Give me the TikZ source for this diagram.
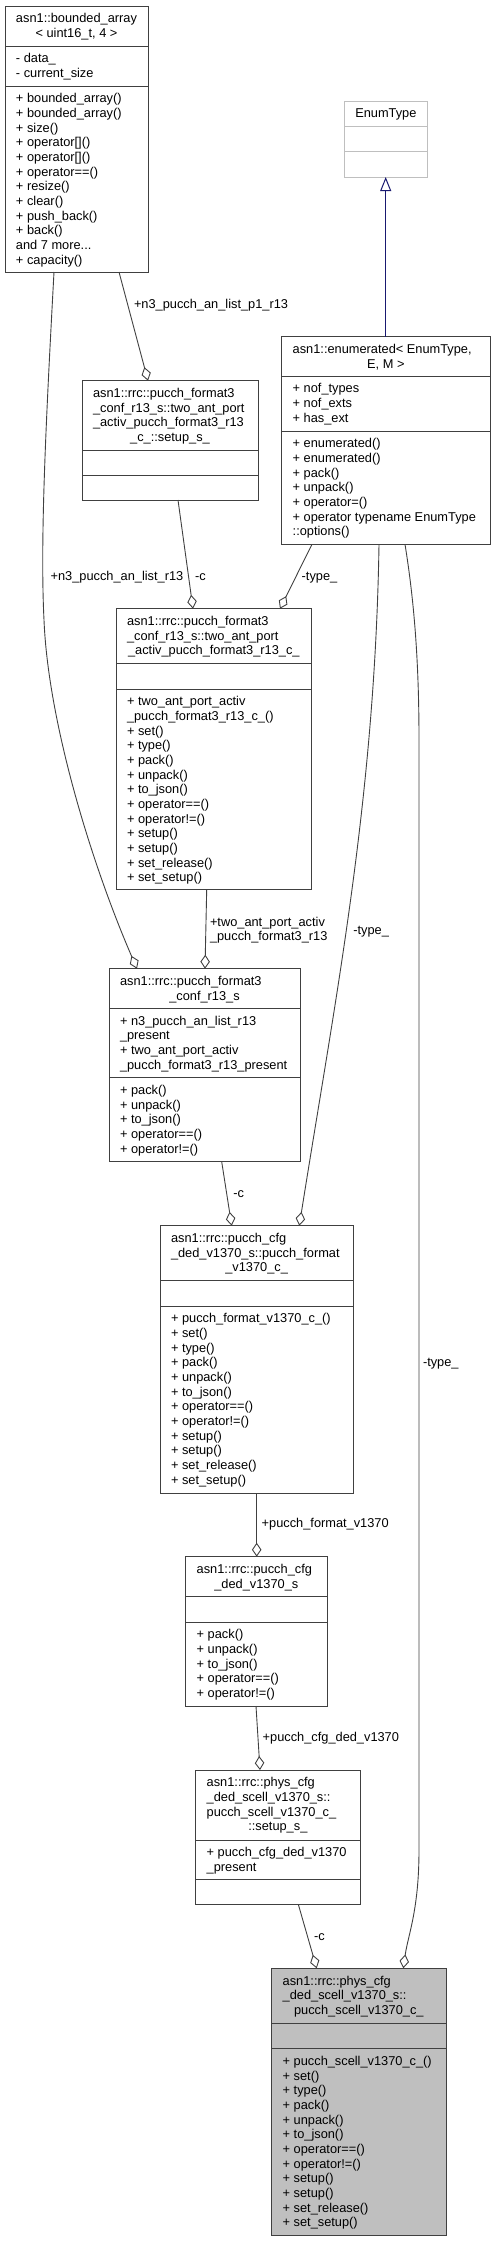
\documentclass[tikz,border=0pt]{standalone}
\usepackage{fontspec}
\setmainfont{Liberation Sans}
\usetikzlibrary{arrows.meta}
\definecolor{boxc}{HTML}{404040}
\definecolor{edgec}{HTML}{404040}
\definecolor{greyf}{HTML}{BFBFBF}
\definecolor{inhc}{HTML}{191970}
\newcommand\umlfont{\fontsize{12.8pt}{14.67pt}\selectfont}
\tikzset{
  x=1pt, y=-1pt,
  umlbox/.style={line width=1pt, inner sep=0pt, outer sep=0pt, anchor=north west},
  sepline/.style={line width=1pt},
  txt/.style={inner sep=0pt, outer sep=0pt, font=\umlfont, text=black},
  lbl/.style={inner sep=0pt, outer sep=0pt, font=\umlfont, text=black, anchor=base west},
  assoc/.style={draw=edgec, line width=0.9pt, -{Diamond[open,length=14pt,width=9.5pt]}},
  inherit/.style={draw=inhc, line width=1pt, -{Triangle[open,length=14pt,width=11pt]}},
}
% #1 name, #2 left, #3 top, #4 right, #5 bottom, #6 sep1, #7 sep2, #8 draw colour, #9 fill colour
\newcommand\umlclass[9]{%
  \node[umlbox, draw=#8, fill=#9, minimum width={(#4-#2)*1pt}, minimum height={(#5-#3)*1pt}] (#1) at (#2,#3) {};
  \draw[sepline, draw=#8] (#2,#6) -- (#4,#6);
  \draw[sepline, draw=#8] (#2,#7) -- (#4,#7);
}
% #1 prefix, #2 x, #3 section top, #4 list
\newcommand\leftlines[4]{%
  \foreach \linetxt [count=\i] in {#4}{
    \node[txt, anchor=base west] (#1-\i) at (#2, #3+16.8+14.67*\i-14.67) {\linetxt};
  }%
}
% #1 prefix, #2 x left, #3 x centre, #4 section top, #5 list (last line centred)
\newcommand\titlelines[5]{%
  \foreach \linetxt [count=\i] in {#5}{\xdef\nlastline{\i}}%
  \foreach \linetxt [count=\i] in {#5}{
    \ifnum\i<\nlastline\relax
      \node[txt, anchor=base west] (#1-\i) at (#2, #4+16.8+14.67*\i-14.67) {\linetxt};
    \else
      \node[txt, anchor=base] (#1-\i) at (#3, #4+16.8+14.67*\i-14.67) {\linetxt};
    \fi
  }%
}
\begin{document}
\begin{tikzpicture}
\useasboundingbox (0,0) rectangle (495,2241);

% ---------- boxes ----------
\umlclass{A}{5}{6}{148}{272}{46}{86}{boxc}{white}
\titlelines{At}{16}{76.5}{6}{asn1::bounded\_array, {< uint16\_t, 4 >}}
\leftlines{Aa}{16}{46}{- data\_, - current\_size}
\leftlines{Am}{16}{86}{+ bounded\_array(), + bounded\_array(), + size(), + operator[](), + operator[](), + operator==(), + resize(), + clear(), + push\_back(), + back(), {and 7 more.{}.{}.}, + capacity()}

\umlclass{ET}{344}{101}{427.7}{177}{126.7}{151.7}{greyf}{white}
\titlelines{ETt}{355}{385.85}{101}{EnumType}

\umlclass{En}{281.7}{336.7}{490}{544.3}{376}{431}{boxc}{white}
\titlelines{Ent}{292.7}{385.85}{336.7}{{asn1::enumerated< EnumType,}, {E, M >}}
\leftlines{Ena}{292.7}{376}{+ nof\_types, + nof\_exts, + has\_ext}
\leftlines{Enm}{292.7}{431}{+ enumerated(), + enumerated(), + pack(), + unpack(), + operator=(), + operator typename EnumType, ::options()}

\umlclass{B}{82}{380.7}{258}{500}{450}{475.3}{boxc}{white}
\titlelines{Bt}{93}{170}{380.7}{asn1::rrc::pucch\_format3, \_conf\_r13\_s::two\_ant\_port, \_activ\_pucch\_format3\_r13, \_c\_::setup\_s\_}

\umlclass{C}{116}{608.7}{311.7}{889.3}{663.3}{689}{boxc}{white}
\titlelines{Ct}{127}{213.85}{608.7}{asn1::rrc::pucch\_format3, \_conf\_r13\_s::two\_ant\_port, \_activ\_pucch\_format3\_r13\_c\_}
\leftlines{Cm}{127}{689}{+ two\_ant\_port\_activ, \_pucch\_format3\_r13\_c\_(), + set(), + type(), + pack(), + unpack(), + to\_json(), + operator==(), + operator!=(), + setup(), + setup(), + set\_release(), + set\_setup()}

\umlclass{D}{109}{968.7}{300}{1161.7}{1008.3}{1077.7}{boxc}{white}
\titlelines{Dt}{120}{204.5}{968.7}{asn1::rrc::pucch\_format3, \_conf\_r13\_s}
\leftlines{Da}{120}{1008.3}{+ n3\_pucch\_an\_list\_r13, \_present, + two\_ant\_port\_activ, \_pucch\_format3\_r13\_present}
\leftlines{Dm}{120}{1077.7}{+ pack(), + unpack(), + to\_json(), + operator==(), + operator!=()}

\umlclass{E}{160}{1225.7}{353.3}{1493.3}{1280}{1306}{boxc}{white}
\titlelines{Et}{171}{256.65}{1225.7}{asn1::rrc::pucch\_cfg, \_ded\_v1370\_s::pucch\_format, \_v1370\_c\_}
\leftlines{Em}{171}{1306}{+ pucch\_format\_v1370\_c\_(), + set(), + type(), + pack(), + unpack(), + to\_json(), + operator==(), + operator!=(), + setup(), + setup(), + set\_release(), + set\_setup()}

\umlclass{F}{185.7}{1556.7}{327}{1706}{1596.7}{1622}{boxc}{white}
\titlelines{Ft}{196.7}{256.35}{1556.7}{asn1::rrc::pucch\_cfg, \_ded\_v1370\_s}
\leftlines{Fm}{196.7}{1622}{+ pack(), + unpack(), + to\_json(), + operator==(), + operator!=()}

\umlclass{G}{195.7}{1770}{360}{1904.3}{1840}{1879}{boxc}{white}
\titlelines{Gt}{206.7}{277.85}{1770}{asn1::rrc::phys\_cfg, \_ded\_scell\_v1370\_s::, pucch\_scell\_v1370\_c\_, ::setup\_s\_}
\leftlines{Ga}{206.7}{1840}{+ pucch\_cfg\_ded\_v1370, \_present}

\umlclass{H}{271.7}{1968.3}{446}{2235}{2023.3}{2048.7}{boxc}{greyf}
\titlelines{Ht}{282.7}{358.85}{1968.3}{asn1::rrc::phys\_cfg, \_ded\_scell\_v1370\_s::, pucch\_scell\_v1370\_c\_}
\leftlines{Hm}{282.7}{2048.7}{+ pucch\_scell\_v1370\_c\_(), + set(), + type(), + pack(), + unpack(), + to\_json(), + operator==(), + operator!=(), + setup(), + setup(), + set\_release(), + set\_setup()}

% ---------- connectors ----------
\draw[inherit] ([xshift=104pt]En.north west) -- ([xshift=41.7pt]ET.south west);

\draw[assoc] ([xshift=114pt]A.south west) -- ([xshift=66pt]B.north west);
\draw[assoc] ([xshift=96pt]B.south west) -- ([xshift=77pt]C.north west);
\draw[assoc] ([xshift=30.3pt]En.south west) -- ([xshift=164pt]C.north west);
\draw[assoc] ([xshift=49pt]A.south west) .. controls (46,420) and (40,540) .. (44,620)
   .. controls (48,720) and (90,860) .. ([xshift=28pt]D.north west);
\draw[assoc] ([xshift=90.7pt]C.south west) -- ([xshift=96pt]D.north west);
\draw[assoc] ([xshift=112.7pt]D.south west) -- ([xshift=71.7pt]E.north west);
\draw[assoc] ([xshift=97.3pt]En.south west) .. controls (375,800) and (335,1000) .. ([xshift=139.3pt]E.north west);
\draw[assoc] ([xshift=96.7pt]E.south west) -- ([xshift=71pt]F.north west);
\draw[assoc] ([xshift=70.3pt]F.south west) -- ([xshift=64.3pt]G.north west);
\draw[assoc] ([xshift=102.6pt]G.south west) -- ([xshift=45pt]H.north west);
\draw[assoc] ([xshift=123.3pt]En.south west) .. controls (414,600) and (419,660) .. (419,740)
   -- (419,1850) .. controls (419,1910) and (408,1935) .. ([xshift=131.6pt]H.north west);

% ---------- connector labels ----------
\node[lbl] (l1) at (134,308.5) {+n3\_pucch\_an\_list\_p1\_r13};
\node[lbl] (l2) at (195,580.2) {-c};
\node[lbl] (l3) at (301.7,580.2) {-type\_};
\node[lbl] (l4) at (50.6,580.2) {+n3\_pucch\_an\_list\_r13};
\node[lbl] (l5a) at (210,926.2) {+two\_ant\_port\_activ};
\node[lbl] (l5b) at (210,940.8) {\_pucch\_format3\_r13};
\node[lbl] (l6) at (233.3,1197.8) {-c};
\node[lbl] (l7) at (353.3,934.5) {-type\_};
\node[lbl] (l8) at (261.7,1527.8) {+pucch\_format\_v1370};
\node[lbl] (l9) at (262.7,1741.2) {+pucch\_cfg\_ded\_v1370};
\node[lbl] (l10) at (314,1940.5) {-c};
\node[lbl] (l11) at (423,1366.5) {-type\_};
\end{tikzpicture}
\end{document}
